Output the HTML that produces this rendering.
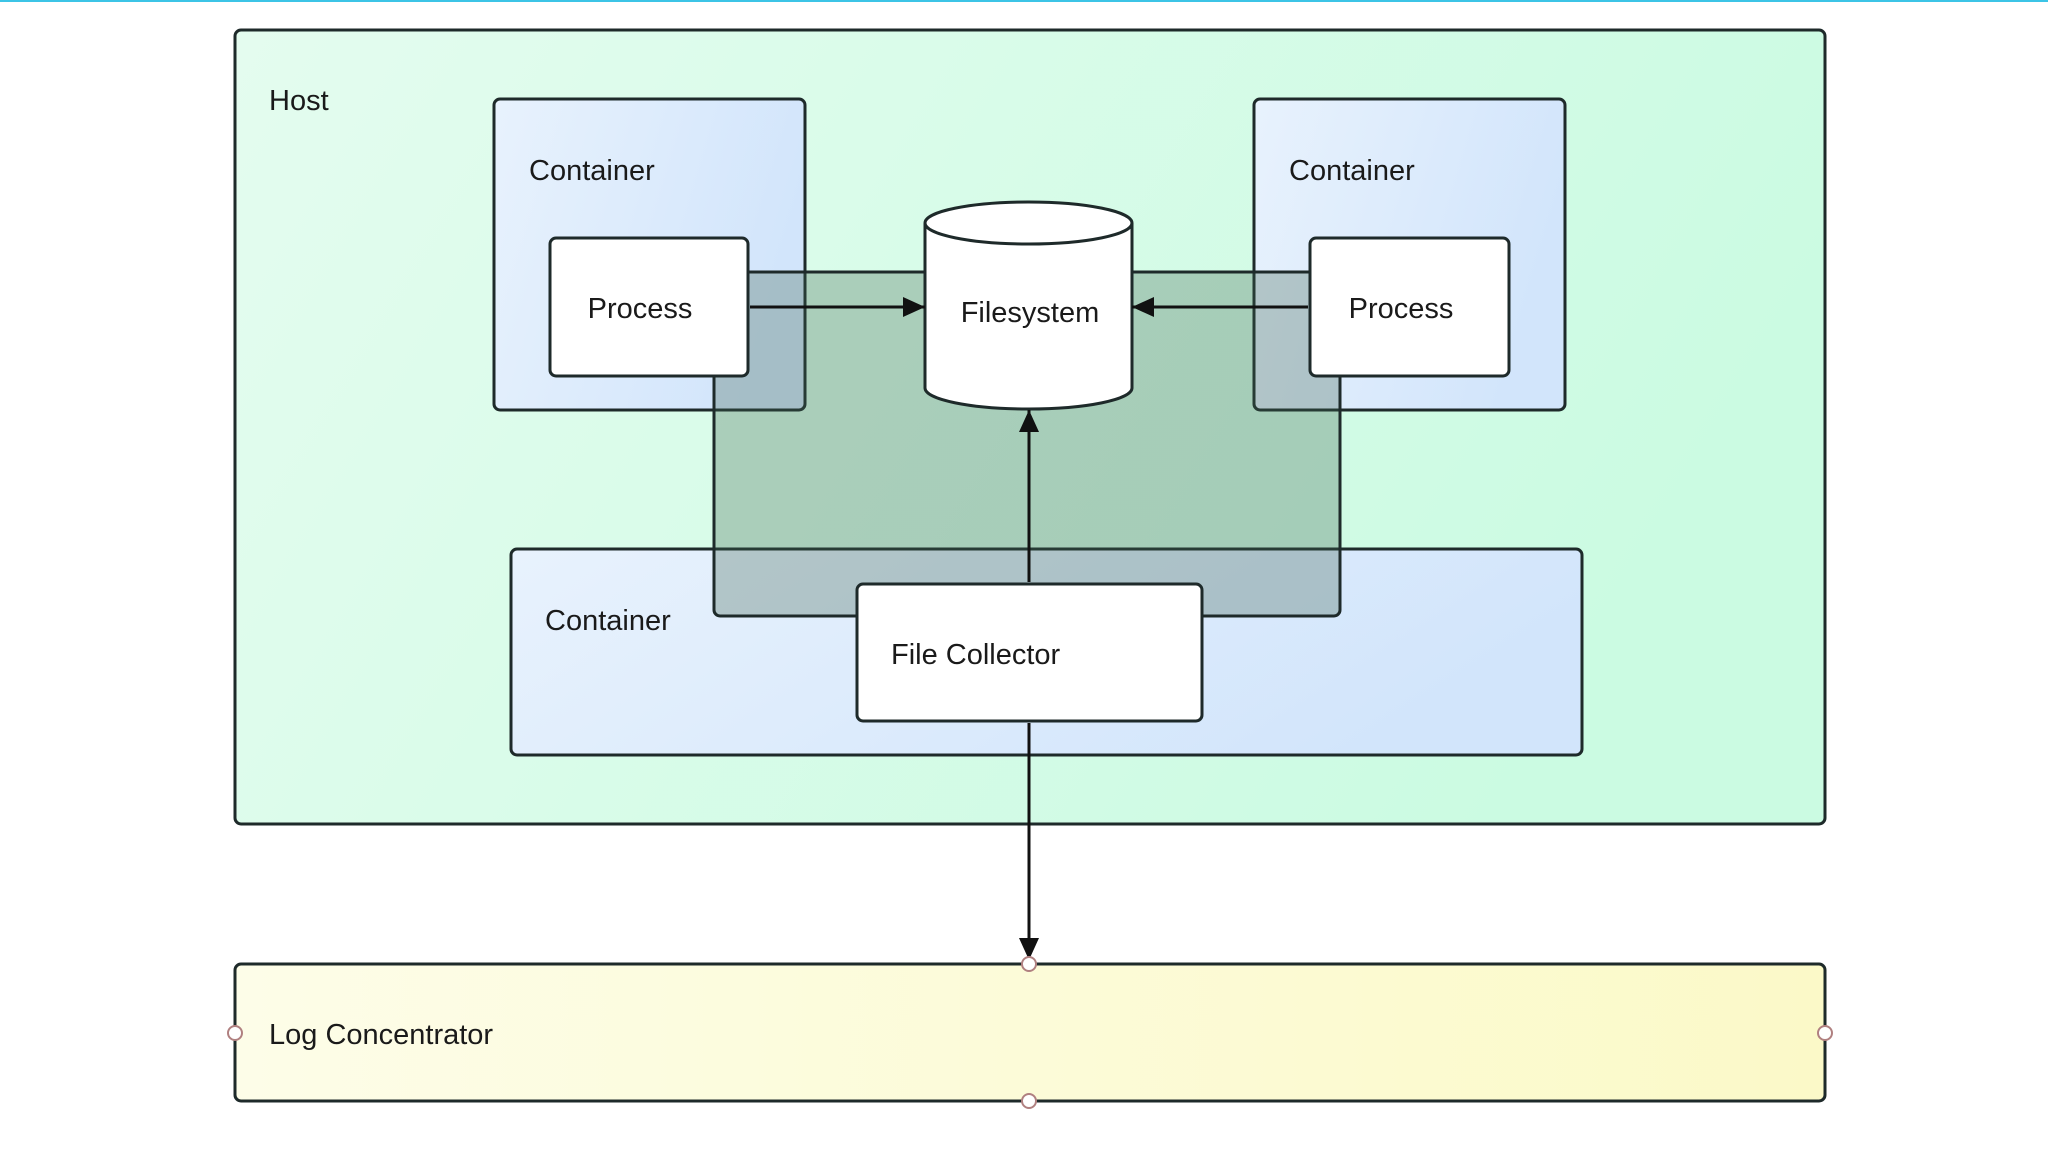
<!DOCTYPE html>
<html><head><meta charset="utf-8"><style>
html,body{margin:0;padding:0;background:#fff;}
svg{display:block;}
text{font-family:"Liberation Sans",sans-serif;fill:#1a1a1a;}
</style></head><body>
<svg width="2048" height="1152" viewBox="0 0 2048 1152" xmlns="http://www.w3.org/2000/svg">
<defs>
<linearGradient id="gh" x1="0" y1="0" x2="1" y2="0.3"><stop offset="0" stop-color="#e4fcef"/><stop offset="1" stop-color="#cbfbe2"/></linearGradient>
<linearGradient id="gc" x1="0" y1="0" x2="1" y2="0.3"><stop offset="0" stop-color="#e8f2fd"/><stop offset="1" stop-color="#d2e5fb"/></linearGradient>
<linearGradient id="gl" x1="0" y1="0" x2="1" y2="0"><stop offset="0" stop-color="#fdfde8"/><stop offset="1" stop-color="#fbf9c8"/></linearGradient>
<marker id="ar" viewBox="0 0 22 20" refX="22" refY="10" markerWidth="22" markerHeight="20" markerUnits="userSpaceOnUse" orient="auto"><path d="M0,0 L22,10 L0,20 z" fill="#111"/></marker>
</defs>
<rect x="0" y="0" width="2048" height="2" fill="#3cc4e6"/>
<rect x="235" y="30" width="1590" height="794" rx="6" fill="url(#gh)" stroke="#1e2a2a" stroke-width="3"/>
<text x="269" y="110" font-size="29">Host</text>
<rect x="494" y="99" width="311" height="311" rx="6" fill="url(#gc)" stroke="#1e2a2a" stroke-width="3"/>
<rect x="1254" y="99" width="311" height="311" rx="6" fill="url(#gc)" stroke="#1e2a2a" stroke-width="3"/>
<text x="529" y="180" font-size="29">Container</text>
<text x="1289" y="180" font-size="29">Container</text>
<rect x="511" y="549" width="1071" height="206" rx="6" fill="url(#gc)" stroke="#1e2a2a" stroke-width="3"/>
<text x="545" y="630" font-size="29">Container</text>
<rect x="714" y="272" width="626" height="344" rx="6" fill="#3f6250" fill-opacity="0.3" stroke="#1e2a2a" stroke-width="3"/>
<rect x="550" y="238" width="198" height="138" rx="6" fill="#fff" stroke="#1e2a2a" stroke-width="3"/>
<rect x="1310" y="238" width="199" height="138" rx="6" fill="#fff" stroke="#1e2a2a" stroke-width="3"/>
<text x="640" y="318" font-size="29" text-anchor="middle">Process</text>
<text x="1401" y="318" font-size="29" text-anchor="middle">Process</text>
<path d="M925,223 L925,388 A103.5,21 0 0 0 1132,388 L1132,223" fill="#fff" stroke="#1e2a2a" stroke-width="3"/>
<ellipse cx="1028.5" cy="223" rx="103.5" ry="21" fill="#fff" stroke="#1e2a2a" stroke-width="3"/>
<text x="1030" y="322" font-size="29" text-anchor="middle">Filesystem</text>
<rect x="857" y="584" width="345" height="137" rx="6" fill="#fff" stroke="#1e2a2a" stroke-width="3"/>
<text x="891" y="664" font-size="29">File Collector</text>
<line x1="750" y1="307" x2="925" y2="307" stroke="#111" stroke-width="3" marker-end="url(#ar)"/>
<line x1="1308" y1="307" x2="1132" y2="307" stroke="#111" stroke-width="3" marker-end="url(#ar)"/>
<line x1="1029" y1="582" x2="1029" y2="410" stroke="#111" stroke-width="3" marker-end="url(#ar)"/>
<line x1="1029" y1="723" x2="1029" y2="960" stroke="#111" stroke-width="3" marker-end="url(#ar)"/>
<rect x="235" y="964" width="1590" height="137" rx="6" fill="url(#gl)" stroke="#1e2a2a" stroke-width="3"/>
<text x="269" y="1044" font-size="29">Log Concentrator</text>
<g fill="#fff" stroke="#b08080" stroke-width="2">
<circle cx="1029" cy="964" r="7"/><circle cx="1029" cy="1101" r="7"/>
<circle cx="235" cy="1033" r="7"/><circle cx="1825" cy="1033" r="7"/>
</g>
</svg>
</body></html>
